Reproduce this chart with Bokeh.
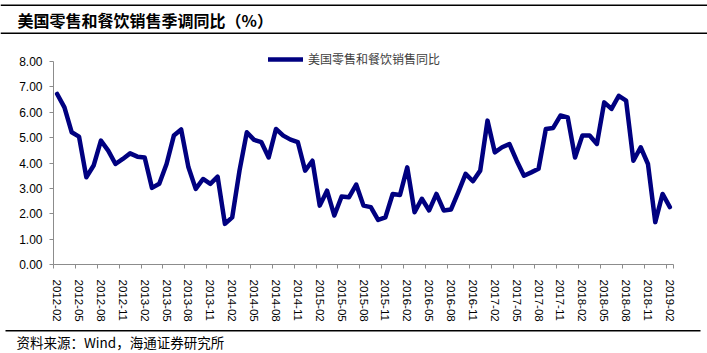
from bokeh.plotting import figure
from bokeh.layouts import column
from bokeh.models import (FixedTicker, Range1d, Legend, LegendItem, ColumnDataSource)
from bokeh.core.properties import value
from bokeh.embed import file_html
from bokeh.resources import INLINE

title_text = "美国零售和餐饮销售季调同比（%）"
source_text = "资料来源：Wind，海通证券研究所"
series_name = "美国零售和餐饮销售同比"

x_tick_labels = [
    "2012-02", "2012-05", "2012-08", "2012-11",
    "2013-02", "2013-05", "2013-08", "2013-11",
    "2014-02", "2014-05", "2014-08", "2014-11",
    "2015-02", "2015-05", "2015-08", "2015-11",
    "2016-02", "2016-05", "2016-08", "2016-11",
    "2017-02", "2017-05", "2017-08", "2017-11",
    "2018-02", "2018-05", "2018-08", "2018-11",
    "2019-02",
]
y_tick_labels = ["0.00", "1.00", "2.00", "3.00", "4.00", "5.00", "6.00", "7.00", "8.00"]

# monthly values, 2012-02 ... 2019-02
values = [
    6.72, 6.19, 5.21, 5.04, 3.44, 3.90, 4.88, 4.49, 3.96, 4.16, 4.38, 4.25,  # 2012-02..2013-01
    4.22, 3.02, 3.18, 3.96, 5.08, 5.32, 3.83, 2.98, 3.37, 3.18, 3.46, 1.60,  # 2013-02..2014-01
    1.86, 3.70, 5.21, 4.91, 4.82, 4.22, 5.34, 5.08, 4.92, 4.82, 3.70, 4.09,  # 2014-02..2015-01
    2.32, 2.91, 1.93, 2.68, 2.65, 3.15, 2.32, 2.26, 1.76, 1.86, 2.78, 2.74,  # 2015-02..2016-01
    3.83, 2.06, 2.59, 2.13, 2.78, 2.13, 2.17, 2.85, 3.57, 3.28, 3.70, 5.67,  # 2016-02..2017-01
    4.42, 4.62, 4.75, 4.09, 3.50, 3.63, 3.77, 5.34, 5.38, 5.87, 5.80, 4.22,  # 2017-02..2018-01
    5.08, 5.08, 4.75, 6.39, 6.13, 6.65, 6.46, 4.09, 4.62, 3.96, 1.67, 2.78,  # 2018-02..2019-01
    2.26,                                                                    # 2019-02
]

months = list(range(len(values)))
src = ColumnDataSource(dict(m=months, v=values))

W = 707
TOP_H, MAIN_H, BOT_H = 40, 285, 28
PX_PER_UNIT = 203 / 8.0          # pixel height of one y unit
FRAME_H = 219                    # frame height incl. room for legend above 8.00
Y_MAX = FRAME_H / PX_PER_UNIT

cjk = "Noto Sans CJK SC"
num_font = "Liberation Sans"
axis_gray = "#8c8c8c"


def blank_fig(h):
    f = figure(width=W, height=h, output_backend="svg", toolbar_location=None,
               x_range=Range1d(0, W), y_range=Range1d(h, 0),
               min_border=0, min_border_left=0, min_border_right=0,
               min_border_top=0, min_border_bottom=0,
               outline_line_color=None, x_axis_location=None,
               y_axis_location=None, background_fill_color="white",
               border_fill_color="white", frame_align=False)
    f.grid.visible = False
    return f


# ---- title strip ----
top = blank_fig(TOP_H)
top.segment(x0=[0, 0], x1=[W, W], y0=[4.75, 32.75], y1=[4.75, 32.75],
            line_color="black", line_width=1.5)
top.text(x=[17], y=[19.5], text=[title_text], text_font=value(cjk),
         text_font_size=value("16px"), text_font_style="bold",
         text_baseline="middle", text_color="black")

# ---- main chart ----
p = figure(width=W, height=MAIN_H, output_backend="svg", toolbar_location=None,
           x_range=Range1d(-0.5, len(values) - 0.5), y_range=Range1d(0, Y_MAX),
           min_border_left=53, min_border_right=34, min_border_top=5,
           min_border_bottom=MAIN_H - 5 - FRAME_H, outline_line_color=None,
           background_fill_color="white", border_fill_color="white",
           frame_align=False)
p.xgrid.visible = False
p.ygrid.visible = False

ya = p.yaxis[0]
ya.ticker = FixedTicker(ticks=list(range(len(y_tick_labels))))
ya.major_label_overrides = {i: t for i, t in enumerate(y_tick_labels)}
ya.bounds = (0, len(y_tick_labels) - 1)
ya.axis_line_color = axis_gray
ya.major_tick_line_color = axis_gray
ya.major_tick_out = 4
ya.major_tick_in = 0
ya.minor_tick_line_color = None
ya.major_label_standoff = 7
ya.major_label_text_font = num_font
ya.major_label_text_font_size = "12px"
ya.major_label_text_color = "black"

xa = p.xaxis[0]
xa.ticker = FixedTicker(ticks=[3 * k for k in range(len(x_tick_labels))],
                        minor_ticks=[3 * k - 0.5 for k in range(len(x_tick_labels))] + [len(values) - 0.5])
xa.major_label_overrides = {3 * k: t for k, t in enumerate(x_tick_labels)}
xa.axis_line_color = axis_gray
xa.major_tick_line_color = None
xa.minor_tick_line_color = axis_gray
xa.minor_tick_out = 4
xa.minor_tick_in = 0
xa.major_label_orientation = "vertical"
xa.major_label_standoff = 9
xa.major_label_text_font = num_font
xa.major_label_text_font_size = "11.5px"
xa.major_label_text_color = "black"

r = p.line("m", "v", source=src, line_color="#000080", line_width=4.5,
           line_join="round", line_cap="round")

legend = Legend(items=[LegendItem(label=series_name, renderers=[r])],
                location=(215, 197), orientation="horizontal",
                glyph_width=35, glyph_height=14, label_standoff=5,
                padding=0, margin=0, spacing=0,
                border_line_color=None, background_fill_alpha=0,
                label_text_font=cjk, label_text_font_size="12px",
                label_text_color="#404040", label_height=14)
p.add_layout(legend)

# ---- source strip ----
bot = blank_fig(BOT_H)
bot.segment(x0=[5], x1=[700], y0=[5.25], y1=[5.25], line_color="black", line_width=1.5)
bot.text(x=[16], y=[16], text=[source_text], text_font=value(cjk),
         text_font_size=value("13.5px"), text_baseline="middle", text_color="black")

layout = column(top, p, bot, spacing=0)
open("out.html", "w").write(file_html(layout, INLINE))
